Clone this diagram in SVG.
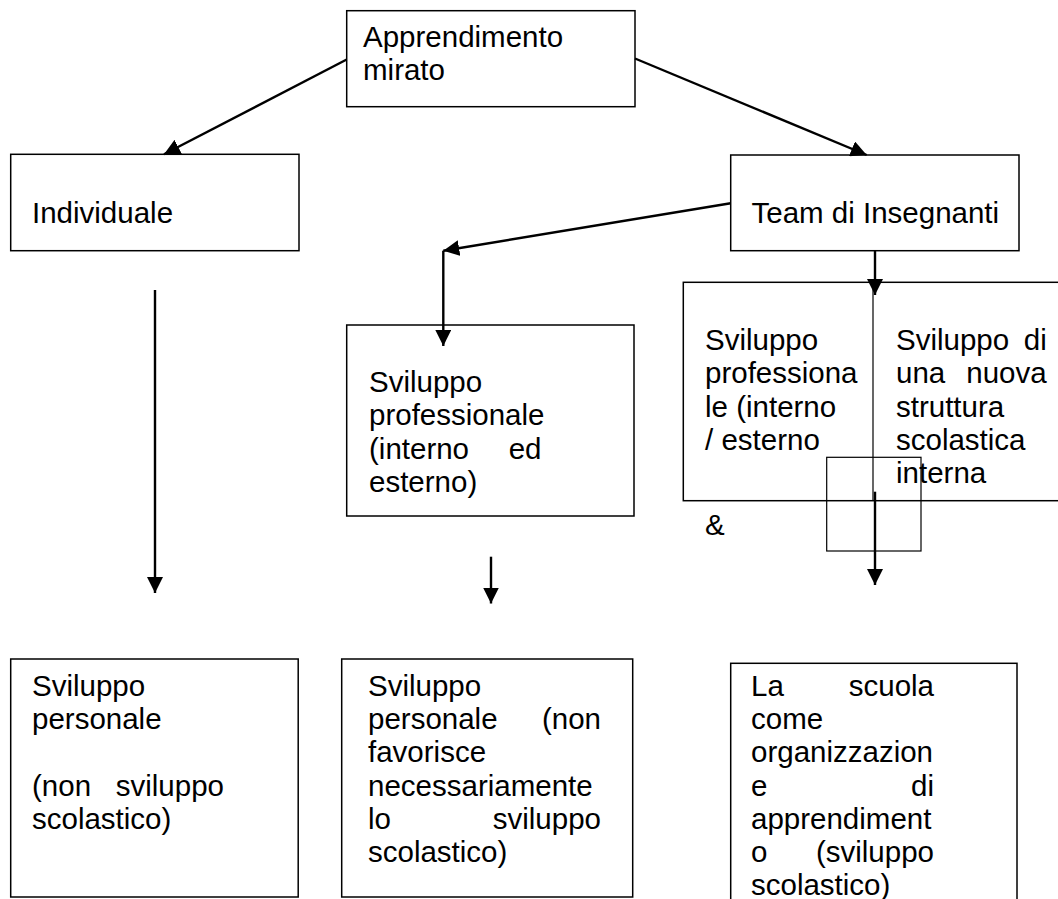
<svg xmlns="http://www.w3.org/2000/svg" width="1058" height="899" viewBox="0 0 1058 899">
<style>
.box{fill:#fff;stroke:#000;stroke-width:1.5}
.thin{fill:none;stroke:#000;stroke-width:1.2}
.t{font-family:"Liberation Sans",Arial,sans-serif;font-size:29.5px;fill:#000}
.e{text-anchor:end}
.c{fill:none;stroke:#000;stroke-width:2.4}
</style>
<defs>
<marker id="ah" viewBox="0 0 16 16" refX="16" refY="8" markerWidth="16" markerHeight="16" markerUnits="userSpaceOnUse" orient="auto">
<path d="M0,0 L16,8 L0,16 z" fill="#000"/>
</marker>
</defs>
<rect width="1058" height="899" fill="#fff"/>

<g id="n-apprendimento">
<rect class="box" x="346.7" y="10.7" width="288.3" height="96"/>
<text class="t" x="363" y="47">Apprendimento</text>
<text class="t" x="363" y="80">mirato</text>
</g>

<g id="n-individuale">
<rect class="box" x="10.7" y="154.3" width="288.3" height="96.4"/>
<text class="t" x="32" y="223">Individuale</text>
</g>

<g id="n-team">
<rect class="box" x="730.7" y="155" width="288.3" height="95.7"/>
<text class="t" x="751.5" y="223">Team di Insegnanti</text>
</g>

<g id="n-svil-prof">
<rect class="box" x="346.7" y="325" width="287.3" height="191"/>
<text class="t" x="369" y="392">Sviluppo</text>
<text class="t" x="369" y="425">professionale</text>
<text class="t" x="369" y="459">(interno</text>
<text class="t e" x="541.5" y="459">ed</text>
<text class="t" x="369" y="492">esterno)</text>
</g>

<g id="n-team-tabella">
<rect class="box" x="683.3" y="282.3" width="390" height="218.4"/>
<line class="thin" x1="873" y1="282.3" x2="873" y2="500.7"/>
<text class="t" x="705" y="350">Sviluppo</text>
<text class="t" x="705" y="383">professiona</text>
<text class="t" x="705" y="417">le (interno</text>
<text class="t" x="705" y="450">/ esterno</text>
<text class="t" x="896" y="350">Sviluppo</text>
<text class="t e" x="1046.7" y="350">di</text>
<text class="t" x="896" y="383">una</text>
<text class="t e" x="1046.7" y="383">nuova</text>
<text class="t" x="896" y="417">struttura</text>
<text class="t" x="896" y="450">scolastica</text>
<text class="t" x="896" y="483">interna</text>
</g>

<g id="n-amp">
<text class="t" x="705" y="535">&amp;</text>
</g>

<g id="n-quadrato">
<rect class="thin" x="826.7" y="457.3" width="94.3" height="93.7"/>
</g>

<g id="n-svil-pers-1">
<rect class="box" x="10.7" y="659" width="287.5" height="238"/>
<text class="t" x="32" y="696">Sviluppo</text>
<text class="t" x="32" y="729">personale</text>
<text class="t" x="32" y="796">(non</text>
<text class="t e" x="224" y="796">sviluppo</text>
<text class="t" x="32" y="829">scolastico)</text>
</g>

<g id="n-svil-pers-2">
<rect class="box" x="341.7" y="659" width="291" height="238"/>
<text class="t" x="368" y="696">Sviluppo</text>
<text class="t" x="368" y="729">personale</text>
<text class="t e" x="601" y="729">(non</text>
<text class="t" x="368" y="762">favorisce</text>
<text class="t" x="368" y="796">necessariamente</text>
<text class="t" x="368" y="829">lo</text>
<text class="t e" x="601" y="829">sviluppo</text>
<text class="t" x="368" y="862">scolastico)</text>
</g>

<g id="n-scuola">
<rect class="box" x="730.7" y="663.3" width="286.3" height="260"/>
<text class="t" x="751" y="696">La</text>
<text class="t e" x="934" y="696">scuola</text>
<text class="t" x="751" y="729">come</text>
<text class="t" x="751" y="762">organizzazion</text>
<text class="t" x="751" y="796">e</text>
<text class="t e" x="934" y="796">di</text>
<text class="t" x="751" y="829">apprendiment</text>
<text class="t" x="751" y="862">o</text>
<text class="t e" x="934" y="862">(sviluppo</text>
<text class="t" x="751" y="895">scolastico)</text>
</g>

<g id="connectors">
<line class="c" x1="346.7" y1="59.5" x2="164" y2="154.3" marker-end="url(#ah)"/>
<line class="c" x1="635" y1="58.5" x2="866.7" y2="155" marker-end="url(#ah)"/>
<line class="c" x1="730.7" y1="203.3" x2="443.3" y2="250.7" marker-end="url(#ah)"/>
<line class="c" x1="443.3" y1="250.7" x2="443.3" y2="346" marker-end="url(#ah)"/>
<line class="c" x1="875" y1="250.7" x2="875" y2="295" marker-end="url(#ah)"/>
<line class="c" x1="875" y1="491.7" x2="875" y2="585" marker-end="url(#ah)"/>
<line class="c" x1="155" y1="290" x2="155" y2="593" marker-end="url(#ah)"/>
<line class="c" x1="491" y1="556.7" x2="491" y2="603.5" marker-end="url(#ah)"/>
</g>
</svg>
